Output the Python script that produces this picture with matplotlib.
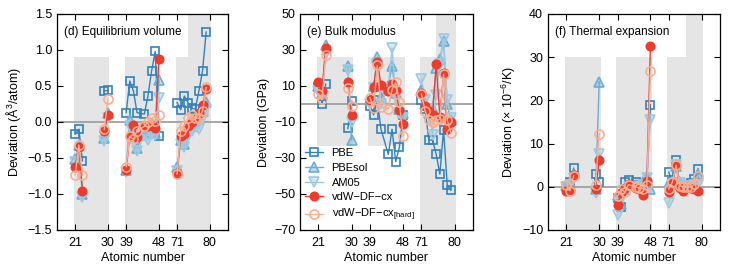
import numpy as np
import matplotlib
matplotlib.use("Agg")
import matplotlib.pyplot as plt
from matplotlib.patches import Rectangle

plt.rcParams['font.family'] = ['Liberation Sans', 'DejaVu Sans']
plt.rcParams['mathtext.fontset'] = 'custom'
plt.rcParams['mathtext.rm'] = 'Liberation Sans'
plt.rcParams['mathtext.it'] = 'Liberation Sans:italic'
plt.rcParams['font.size'] = 9

# atomic numbers of the metals shown
elements = [21, 22, 23, 29, 30,
            39, 40, 41, 42, 44, 45, 46, 47, 48,
            71, 72, 73, 74, 75, 76, 77, 78, 79]
tick_z = [21, 30, 39, 48, 71, 80]
rows = [(21, 30), (39, 48), (71, 80)]

# (d) equilibrium volume deviation (A^3/atom)
vol_pbe = [-0.17, -0.10, -0.54, 0.43, 0.44,
           0.13, 0.57, 0.43, 0.13, 0.11, 0.36, 0.71, 0.98, -0.20,
           0.27, 0.17, 0.36, 0.27, 0.19, 0.18, 0.43, 0.71, 1.25]
vol_pbesol = [-0.52, -0.32, -1.00, -0.22, 0.13,
              -0.66, 0.03, -0.15, -0.36, -0.14, -0.15, -0.10, -0.15, 0.58,
              -0.63, -0.25, -0.30, -0.08, -0.05, 0.02, 0.05, 0.15, 0.28]
vol_am05 = [-0.55, -0.40, -1.04, -0.27, 0.06,
            -0.70, -0.05, -0.22, -0.40, -0.20, -0.25, -0.16, -0.18, 0.33,
            -0.68, -0.30, -0.35, -0.20, -0.12, -0.06, -0.10, 0.05, 0.18]
vol_cx = [-0.62, -0.35, -0.96, -0.12, 0.10,
          -0.67, -0.19, -0.04, -0.21, -0.05, -0.06, -0.04, -0.09, 0.87,
          -0.71, -0.19, -0.16, -0.05, 0.00, 0.05, 0.12, 0.23, 0.46]
vol_hard = [-0.73, -0.32, -0.74, -0.10, 0.32,
            -0.62, -0.20, -0.24, -0.12, -0.06, 0.00, 0.05, 0.02, 0.10,
            -0.72, -0.12, -0.05, 0.05, 0.10, 0.06, 0.05, 0.15, 0.48]

# (e) bulk modulus deviation (GPa)
bulk_pbe = [9.6, 0.0, 11.0, -13.6, 1.5,
            -1.0, -6.0, 2.0, -14.0, -28.0, -14.0, -32.0, -24.0, -6.0,
            2.0, -3.0, -20.0, -20.0, -28.0, -39.0, -14.5, -45.0, -48.0]
bulk_pbesol = [10.0, 6.0, 33.0, 21.0, -20.0,
               2.0, 10.0, 26.0, 4.0, 10.0, 21.0, 6.0, -3.0, -5.0,
               8.0, 0.0, -5.0, -3.0, 20.0, 25.0, 35.0, 0.0, -9.0]
bulk_am05 = [7.0, 5.0, 28.0, 19.0, -10.0,
             0.0, 9.0, 22.0, 0.0, 9.0, 31.0, 4.0, -5.0, -8.0,
             14.0, 2.0, -3.0, -17.0, 5.0, 22.0, 36.0, 2.0, -8.0]
bulk_cx = [12.0, 7.5, 31.0, 12.3, -6.0,
           2.0, 9.5, 23.5, 10.5, 7.0, 11.0, 8.0, -3.5, -11.0,
           6.0, -1.0, -4.0, -6.0, 22.0, -7.0, 17.0, -14.0, -10.0]
bulk_hard = [5.7, 3.0, 27.5, 9.0, -1.0,
             3.5, -2.0, 21.5, -1.5, -2.5, 8.0, 12.0, 1.0, -18.0,
             5.5, -4.0, -9.0, -10.0, -9.0, -8.5, 16.5, -9.0, -16.0]

# (f) thermal expansion deviation (1e-6/K)
tec_pbe = [0.3, 1.0, 4.3, 3.0, 1.2,
           -2.5, -4.6, 1.0, 1.5, 1.0, 0.5, 0.2, 0.8, 19.0,
           3.4, 1.0, 6.3, 0.5, 0.3, 0.5, 0.8, 1.8, 4.2]
tec_pbesol = [0.5, 0.8, 3.0, -0.5, 24.3,
              -2.0, -4.0, -0.5, 0.5, 0.5, 0.3, 1.0, 2.5, -0.5,
              0.8, 1.2, 4.8, 1.0, 0.5, 0.3, 0.5, 1.0, 3.0]
tec_am05 = [0.0, 0.5, 2.0, -1.5, 7.7,
            -6.5, -3.0, -1.0, 0.0, 0.0, 0.0, 0.5, 2.0, 15.5,
            -3.8, 0.5, 5.0, 0.8, 0.2, 0.0, 0.3, 0.5, 0.5]
tec_cx = [-1.0, -0.8, 2.8, -0.6, 6.2,
          -4.1, -1.5, -0.3, 0.6, -0.2, -0.4, -1.8, 1.4, 32.7,
          -1.2, 0.8, 5.1, -0.2, -0.9, -0.1, -0.2, -0.4, -0.9]
tec_hard = [0.5, -0.9, 2.5, 0.5, 12.3,
            -2.2, -0.5, -1.2, 0.5, 0.0, -0.3, -0.4, 0.4, 26.7,
            -0.5, 1.1, 5.0, 0.2, 0.0, 0.0, -0.1, 0.6, 2.6]

labels = ['PBE', 'PBEsol', 'AM05', 'vdW−DF−cx', 'vdW−DF−cx$_{\\mathregular{[hard]}}$']


def xpos(z):
    # compress the gaps between the d-rows
    z = np.asarray(z, dtype=float)
    return np.where(z <= 30, z - 21, np.where(z <= 48, z - 39 + 14, z - 71 + 28))


def with_breaks(z, y):
    # insert NaN where the atomic numbers jump so lines break
    xs, ys = [], []
    for i in range(len(z)):
        if i > 0 and z[i] - z[i - 1] > 2:
            xs.append(np.nan)
            ys.append(np.nan)
        xs.append(xpos(z[i]))
        ys.append(y[i])
    return np.array(xs), np.array(ys)


styles = [
    dict(color='#3182bd', marker='s', mfc='none', ms=6),
    dict(color='#6baed6', marker='^', mfc=(0.42, 0.68, 0.84, 0.45), ms=7),
    dict(color='#9ecae1', marker='v', mfc=(0.62, 0.79, 0.88, 0.45), ms=7),
    dict(color='#ef3b2c', marker='o', mfc='#ef3b2c', ms=6),
    dict(color='#fcae91', marker='o', mfc='none', ms=6.5),
]

panels = [
    dict(series=[vol_pbe, vol_pbesol, vol_am05, vol_cx, vol_hard],
         ylim=(-1.5, 1.5), yticks=np.arange(-1.5, 1.51, 0.5),
         ylabel='Deviation (Å$^{3}$/atom)', title='(d) Equilibrium volume',
         left=57, right=228, boxw=0.766),
    dict(series=[bulk_pbe, bulk_pbesol, bulk_am05, bulk_cx, bulk_hard],
         ylim=(-70, 50), yticks=np.arange(-70, 51, 20),
         ylabel='Deviation (GPa)', title='(e) Bulk modulus',
         left=300, right=473, boxw=0.786),
    dict(series=[tec_pbe, tec_pbesol, tec_am05, tec_cx, tec_hard],
         ylim=(-10, 40), yticks=np.arange(-10, 41, 10),
         ylabel='Deviation (× 10$^{-6}$/K)', title='(f) Thermal expansion',
         left=548, right=720, boxw=0.80),
]

W, H = 747, 268
fig = plt.figure(figsize=(W / 100, H / 100), dpi=100)

for k, p in enumerate(panels):
    ax = fig.add_axes([p['left'] / W, (H - 230) / H, (p['right'] - p['left']) / W, 216 / H])
    ax.set_xlim(-5, 42)
    ax.set_ylim(*p['ylim'])

    for z0, z1 in rows:
        ax.axvspan(xpos(z0) - 0.4, xpos(z1) + 0.4, color='#e5e5e5', lw=0, zorder=0.5)
    ax.add_patch(Rectangle((0, 0.8), p['boxw'], 0.2, transform=ax.transAxes,
                           facecolor='white', edgecolor='none', zorder=1))
    ax.axhline(0, color='#a0a0a0', lw=1.3, zorder=1.2)

    handles = []
    for vals, st, lab in zip(p['series'], styles, labels):
        xs, ys = with_breaks(elements, vals)
        h, = ax.plot(xs, ys, color=st['color'], lw=1.0, marker=st['marker'],
                     ms=st['ms'], mfc=st['mfc'], mec=st['color'], mew=1.2,
                     label=lab, zorder=2)
        handles.append(h)

    ax.text(0.04, 0.915, p['title'], transform=ax.transAxes, ha='left', va='center',
            fontsize=8.5, zorder=3)

    if k == 1:
        ax.add_patch(Rectangle((0, 0), 0.665, 0.39, transform=ax.transAxes,
                               facecolor='white', edgecolor='none', zorder=1))
        ax.legend(handles=handles, loc='lower left', bbox_to_anchor=(-0.01, 0.0),
                  frameon=False, fontsize=8, handlelength=1.6, handletextpad=0.8,
                  labelspacing=0.42, borderaxespad=0.2)

    ax.set_xticks(xpos(tick_z))
    ax.set_xticklabels([str(z) for z in tick_z])
    ax.set_yticks(p['yticks'])
    ax.tick_params(direction='in', top=True, right=True, length=4, labelsize=9)
    ax.tick_params(axis='x', pad=5)
    ax.set_xlabel('Atomic number', fontsize=9, labelpad=2)
    ax.set_ylabel(p['ylabel'], fontsize=9, labelpad=3)
    for s in ax.spines.values():
        s.set_linewidth(0.9)

fig.savefig('out.png', dpi=100)
